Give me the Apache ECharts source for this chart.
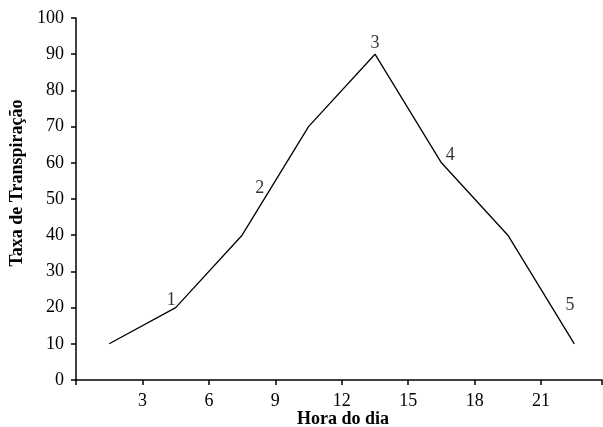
<!DOCTYPE html>
<html>
<head>
<meta charset="utf-8">
<script src="https://cdn.jsdelivr.net/npm/echarts@6/dist/echarts.min.js"></script>
<style>html,body{margin:0;padding:0;background:#fff}#c{width:603px;height:427px}</style>
</head>
<body>
<div id="c"></div>
<script>
var hours = [1.5, 4.5, 7.5, 10.5, 13.5, 16.5, 19.5, 22.5];
var rates = [10, 20, 40, 70, 90, 60, 40, 10];
var labelNames = ['1', '2', '3', '4', '5'];
var labelX = [4.3, 8.3, 13.5, 16.9, 22.3];
var labelY = [22, 53, 93, 62, 20.7];
var xTicks = [3, 6, 9, 12, 15, 18, 21];

var font = 'Liberation Serif';
var chart = echarts.init(document.getElementById('c'));
chart.setOption({
  animation: false,
  grid: {left: 76, right: 1, top: 18, bottom: 47, containLabel: false, outerBoundsMode: 'none'},
  xAxis: {
    type: 'value', min: 0, max: 23.75, interval: 3,
    name: 'Hora do dia', nameLocation: 'middle', nameGap: 30, nameMoveOverlap: false,
    nameTextStyle: {fontFamily: font, fontSize: 18, fontWeight: 'bold', color: '#000', padding: [0, 0, 0, 8]},
    axisLine: {lineStyle: {color: '#000', width: 1.5}},
    axisTick: {show: true, length: 5, lineStyle: {color: '#000', width: 1.5}},
    axisLabel: {fontFamily: font, fontSize: 18, color: '#000', margin: 12,
      formatter: function (v) { return xTicks.indexOf(v) >= 0 ? String(v) : ''; }},
    splitLine: {show: false}
  },
  yAxis: {
    type: 'value', min: 0, max: 100, interval: 10,
    name: 'Taxa de Transpiração', nameLocation: 'middle', nameGap: 50, nameMoveOverlap: false,
    nameTextStyle: {fontFamily: font, fontSize: 18, fontWeight: 'bold', color: '#000', padding: [0, 0, 0, 32]},
    axisLine: {show: true, lineStyle: {color: '#000', width: 1.5}},
    axisTick: {show: true, length: 5, lineStyle: {color: '#000', width: 1.5}},
    axisLabel: {fontFamily: font, fontSize: 18, color: '#000', margin: 12},
    splitLine: {show: false}
  },
  series: [
    {
      type: 'line', data: hours.map(function (h, i) { return [h, rates[i]]; }),
      symbol: 'none', lineStyle: {color: '#000', width: 1.3}
    },
    {
      type: 'scatter', symbolSize: 0,
      data: labelNames.map(function (n, i) { return {name: n, value: [labelX[i], labelY[i]]}; }),
      label: {show: true, position: 'inside', formatter: '{b}', fontFamily: font, fontSize: 18, color: '#000'}
    }
  ]
});
</script>
</body>
</html>
